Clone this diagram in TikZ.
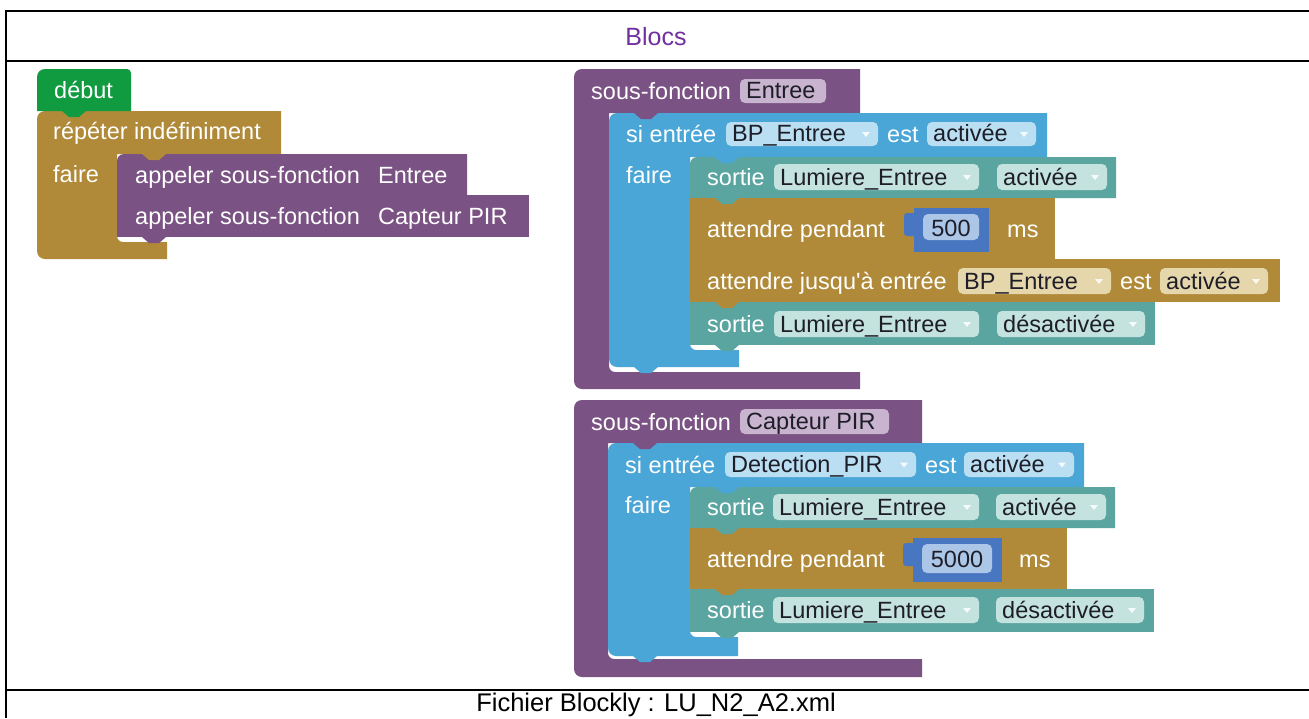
\documentclass[tikz,border=0pt]{standalone}
\usepackage{fontspec}
\setmainfont{Liberation Sans}
\newfontfamily\blkfam{Liberation Sans}
\newcommand\blkfont{\blkfam\fontsize{23.5}{28}\selectfont}
\newcommand\ttlfont{\blkfam\fontsize{25}{30}\selectfont}
\newcommand\ftrfont{\blkfam\fontsize{25.5}{30}\selectfont}
\definecolor{pur}{RGB}{122,82,131}
\definecolor{gold}{RGB}{176,138,56}
\definecolor{grn}{RGB}{16,155,64}
\definecolor{blu}{RGB}{74,166,214}
\definecolor{tea}{RGB}{91,165,160}
\definecolor{numc}{RGB}{72,118,192}
\definecolor{blupill}{RGB}{186,222,242}
\definecolor{teapill}{RGB}{196,226,222}
\definecolor{goldpill}{RGB}{230,214,172}
\definecolor{purpill}{RGB}{200,180,206}
\definecolor{numpill}{RGB}{172,198,232}
\definecolor{ptext}{RGB}{30,30,40}
\definecolor{titlec}{RGB}{112,48,160}
% rectangle with rounded top-left corner
\newcommand\stmt[6]{\fill[#1] (#2,#3+#6) arc[start angle=180,end angle=270,radius=#6] -- (#4,#3) -- (#4,#5) -- (#2,#5) -- cycle;}
% connection tab protruding downward
\newcommand\tabx[3]{\fill[#1] (#2,#3-1) -- (#2+24,#3-1) -- (#2+24,#3) -- (#2+17,#3+6) -- (#2+7,#3+6) -- (#2,#3) -- cycle;}
% field pill: name, colour, x1, y1, x2, y2, text
\newcommand\pill[7]{\fill[#2,rounded corners=5pt] (#3,#4) rectangle (#5,#6);
  \node[ptxt] (#1) at (#3+6,#6-5) {#7};}
\newcommand\pilla[7]{\pill{#1}{#2}{#3}{#4}{#5}{#6}{#7}%
  \fill[white,opacity=0.85] (#5-16,#4/2+#6/2-2) -- (#5-8,#4/2+#6/2-2) -- (#5-12,#4/2+#6/2+3) -- cycle;}
\begin{document}
\begin{tikzpicture}[x=1pt,y=-1pt,
  txt/.style={anchor=base west,inner sep=0pt,text=white,font=\blkfont},
  ptxt/.style={anchor=base west,inner sep=0pt,text=ptext,font=\blkfont}]
\useasboundingbox (0,0) rectangle (1309,718);
\fill[white] (0,0) rectangle (1309,718);
% ---------- table frame ----------
\draw[line width=2pt] (6,11) -- (1309,11);
\draw[line width=1.6pt] (6,10) -- (6,718);
\draw[line width=1.3pt] (6,61) -- (1309,61);
\draw[line width=2.4pt] (6,61) -- (27,61);
\draw[line width=2.4pt] (1288,61) -- (1309,61);
\draw[line width=2.2pt] (6,690) -- (1309,690);
\node[text=titlec,font=\ttlfont,anchor=base,inner sep=0pt] (title) at (656,45) {Blocs};
\node[text=black,font=\ftrfont,anchor=base,inner sep=0pt] (footer) at (656,711) {Fichier Blockly : LU\_N2\_A2.xml};
% ---------- left group ----------
\fill[gold] (37,119) arc[start angle=180,end angle=270,radius=8] -- (281,111) -- (281,154) -- (117,154) -- (117,236) arc[start angle=180,end angle=90,radius=6] -- (167,242) -- (167,259) -- (45,259) arc[start angle=90,end angle=180,radius=8] -- cycle;
\fill[grn] (37,77) arc[start angle=180,end angle=270,radius=8] -- (127,69) arc[start angle=270,end angle=360,radius=4] -- (131,111) -- (37,111) -- cycle;
\tabx{grn}{62}{111}
\stmt{pur}{117}{154}{467}{195}{7}
\fill[pur] (117,195) rectangle (529,237);
\tabx{gold}{142}{154}
\tabx{pur}{142}{195}
\tabx{pur}{142}{237}
\node[txt] (debut) at (54,98) {début};
\node[txt] (repeter) at (53,139) {répéter indéfiniment};
\node[txt] (faireL) at (53,182) {faire};
\node[txt] (call1) at (135,183) {appeler sous-fonction};
\node[txt] (call1n) at (378,183) {Entree};
\node[txt] (call2) at (135,224) {appeler sous-fonction};
\node[txt] (call2n) at (378,224) {Capteur PIR};
% ---------- right group 1 : sous-fonction Entree ----------
\fill[pur] (574,77) arc[start angle=180,end angle=270,radius=8] -- (860,69) -- (860,113) -- (609,113) -- (609,366) arc[start angle=180,end angle=90,radius=6] -- (860,372) -- (860,389) -- (582,389) arc[start angle=90,end angle=180,radius=8] -- cycle;
\fill[blu] (609,121) arc[start angle=180,end angle=270,radius=8] -- (1047,113) -- (1047,157) -- (690,157) -- (690,344) arc[start angle=180,end angle=90,radius=6] -- (739,350) -- (739,367) -- (617,367) arc[start angle=90,end angle=180,radius=8] -- cycle;
\stmt{tea}{690}{157}{1116}{198}{7}
\fill[gold] (690,198) rectangle (1055,259);
\fill[gold] (690,259) rectangle (1280,302);
\fill[tea] (690,302) rectangle (1155,345);
\tabx{pur}{634}{113}
\tabx{blu}{715}{157}
\tabx{tea}{715}{198}
\tabx{gold}{715}{259}
\tabx{gold}{715}{302}
\tabx{tea}{715}{345}
\tabx{blu}{634}{367}
\node[txt] (sf1) at (591,99) {sous-fonction};
\pill{sf1n}{purpill}{740}{79}{826}{103}{Entree}
\node[txt] (si1) at (626,142) {si entrée};
\pilla{si1a}{blupill}{726}{122}{878}{146}{BP\_Entree}
\node[txt] (est1) at (887,142) {est};
\pilla{si1b}{blupill}{927}{122}{1036}{146}{activée}
\node[txt] (faire1) at (626,183) {faire};
\node[txt] (so1) at (707,185) {sortie};
\pilla{so1a}{teapill}{774}{164}{979}{190}{Lumiere\_Entree}
\pilla{so1b}{teapill}{997}{164}{1107}{190}{activée}
\node[txt] (at1) at (707,237) {attendre pendant};
\fill[numc,rounded corners=3pt] (904,213) rectangle (917,236);
\fill[numc] (914,208) rectangle (989,252);
\fill[numpill,rounded corners=5pt] (923,214) rectangle (979,240);
\node[ptxt,anchor=base] (n500) at (951,236) {500};
\node[txt] (ms1) at (1007,237) {ms};
\node[txt] (aj1) at (707,289) {attendre jusqu'à entrée};
\pilla{aj1a}{goldpill}{958}{268}{1111}{294}{BP\_Entree}
\node[txt] (est2) at (1120,289) {est};
\pilla{aj1b}{goldpill}{1160}{268}{1268}{294}{activée}
\node[txt] (so2) at (707,332) {sortie};
\pilla{so2a}{teapill}{774}{311}{979}{337}{Lumiere\_Entree}
\pilla{so2b}{teapill}{997}{311}{1145}{337}{désactivée}
% ---------- right group 2 : sous-fonction Capteur PIR ----------
\fill[pur] (574,408) arc[start angle=180,end angle=270,radius=8] -- (922,400) -- (922,443) -- (608,443) -- (608,653) arc[start angle=180,end angle=90,radius=6] -- (922,659) -- (922,677) -- (582,677) arc[start angle=90,end angle=180,radius=8] -- cycle;
\fill[blu] (608,451) arc[start angle=180,end angle=270,radius=8] -- (1084,443) -- (1084,487) -- (690,487) -- (690,631) arc[start angle=180,end angle=90,radius=6] -- (738,637) -- (738,656) -- (616,656) arc[start angle=90,end angle=180,radius=8] -- cycle;
\stmt{tea}{690}{487}{1115}{528}{7}
\fill[gold] (690,528) rectangle (1067,589);
\fill[tea] (690,589) rectangle (1154,632);
\tabx{pur}{633}{443}
\tabx{blu}{715}{487}
\tabx{tea}{715}{528}
\tabx{gold}{715}{589}
\tabx{tea}{715}{632}
\tabx{blu}{633}{656}
\node[txt] (sf2) at (591,430) {sous-fonction};
\pill{sf2n}{purpill}{740}{409}{889}{434}{Capteur PIR}
\node[txt] (si2) at (625,473) {si entrée};
\pilla{si2a}{blupill}{725}{452}{916}{477}{Detection\_PIR}
\node[txt] (est3) at (925,473) {est};
\pilla{si2b}{blupill}{964}{452}{1074}{477}{activée}
\node[txt] (faire2) at (625,513) {faire};
\node[txt] (so3) at (707,515) {sortie};
\pilla{so3a}{teapill}{773}{494}{979}{520}{Lumiere\_Entree}
\pilla{so3b}{teapill}{996}{494}{1106}{520}{activée}
\node[txt] (at2) at (707,567) {attendre pendant};
\fill[numc,rounded corners=3pt] (903,543) rectangle (916,566);
\fill[numc] (913,538) rectangle (1002,582);
\fill[numpill,rounded corners=5pt] (922,544) rectangle (992,573);
\node[ptxt,anchor=base] (n5000) at (957,567) {5000};
\node[txt] (ms2) at (1019,567) {ms};
\node[txt] (so4) at (707,618) {sortie};
\pilla{so4a}{teapill}{773}{597}{979}{623}{Lumiere\_Entree}
\pilla{so4b}{teapill}{996}{597}{1144}{623}{désactivée}
\end{tikzpicture}
\end{document}
